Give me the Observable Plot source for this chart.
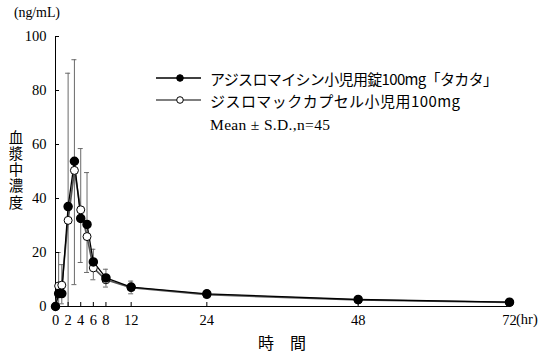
<!DOCTYPE html>
<html><head><meta charset="utf-8">
<script src="https://cdn.jsdelivr.net/npm/d3@7"></script>
<script src="https://cdn.jsdelivr.net/npm/@observablehq/plot@0.6"></script>
<style>body{margin:0;background:#fff}#chart{width:547px;height:356px}</style>
</head><body><div id="chart"></div>
<script>
const times = [0, 0.5, 1, 2, 3, 4, 5, 6, 8, 12, 24, 48, 72];
const takata = [0, 4.8, 4.8, 37.0, 53.8, 32.6, 30.4, 16.5, 10.6, 7.2, 4.7, 2.6, 1.6];
const zithromac = [0, 7.6, 7.9, 31.9, 50.4, 35.8, 25.9, 14.3, 9.9, 7.0, 4.4, 2.4, 1.5];
const errHigh = [null, 20.0, 15.5, 86.4, 91.4, 58.5, 49.6, 21.2, 13.8, 9.4, 5.9, null, null];
const errLow = [null, 0, 1.0, 0, 8.1, 16.3, 12.6, 9.9, 7.2, 4.7, 3.5, null, null];
const xTicks = [0, 2, 4, 6, 8, 12, 24, 48, 72];
const yTicks = [0, 20, 40, 60, 80, 100];
const seriesNames = ["アジスロマイシン小児用錠100mg「タカタ」", "ジスロマックカプセル小児用100mg"];
const noteText = "Mean ± S.D.,n=45";
const yUnit = "(ng/mL)";
const xUnit = "(hr)";
const yTitle = "血漿中濃度";
const xTitle = "時　間";

const W = 547, H = 356, mL = 55, mR = 38, mT = 36, mB = 50;
const frameW = W - mL - mR, frameH = H - mT - mB;
const serif = "'Liberation Serif','DejaVu Serif',serif";
const jp = "'Noto Sans CJK JP','Noto Sans CJK SC',sans-serif";

const rows = times.map((t, i) => ({t, a: takata[i], b: zithromac[i], hi: errHigh[i], lo: errLow[i]}));
const err = rows.filter(d => d.hi != null);

const plot = Plot.plot({
  width: W, height: H, marginLeft: mL, marginRight: mR, marginTop: mT, marginBottom: mB,
  style: {fontFamily: serif, fontSize: "14.5px", color: "#000", background: "#fff"},
  x: {domain: [0, 72]},
  y: {domain: [0, 100]},
  marks: [
    Plot.ruleX(err, {x: "t", y1: "lo", y2: "hi", stroke: "#6a6a6a", strokeWidth: 1}),
    Plot.ruleY(err.filter(d => d.lo > 0), {y: "lo", x1: "t", x2: "t", insetLeft: -2.5, insetRight: -2.5, stroke: "#6a6a6a"}),
    Plot.ruleY(err, {y: "hi", x1: "t", x2: "t", insetLeft: -2.5, insetRight: -2.5, stroke: "#6a6a6a"}),
    Plot.ruleX(xTicks, {insetTop: frameH - 4, stroke: "#000"}),
    Plot.ruleY(yTicks, {insetRight: frameW - 4, stroke: "#000"}),
    Plot.ruleX([0], {stroke: "#000"}),
    Plot.ruleY([0], {stroke: "#000"}),
    Plot.axisX(xTicks, {tickSize: 0, tickPadding: 8, fontSize: 14.5, label: null}),
    Plot.axisY(yTicks, {tickSize: 0, tickPadding: 9, fontSize: 14.5, label: null}),
    Plot.line(rows, {x: "t", y: "b", stroke: "#555", strokeWidth: 1.7}),
    Plot.line(rows, {x: "t", y: "a", stroke: "#000", strokeWidth: 1.3}),
    Plot.dot(rows.slice(1), {x: "t", y: "b", r: 4, fill: "#fff", stroke: "#000", strokeWidth: 1}),
    Plot.dot(rows, {x: "t", y: "a", r: 4, fill: "#000", stroke: "#000"})
  ]
});
document.getElementById("chart").append(plot);

const svg = d3.select(plot);
const sx = v => plot.scale("x").apply(v);
const sy = v => plot.scale("y").apply(v);
const g = svg.append("g").attr("text-anchor", "start");

g.append("text").attr("x", 14).attr("y", 17).attr("font-family", serif).attr("font-size", 14)
  .attr("textLength", 46).text(yUnit);
g.append("text").attr("x", sx(72) + 7).attr("y", sy(0) + 8).attr("dy", "0.71em")
  .attr("font-family", serif).attr("font-size", 14.5).text(xUnit);
g.append("text").attr("x", 16).attr("y", 130).attr("writing-mode", "tb")
  .style("writing-mode", "vertical-rl")
  .attr("font-family", jp).attr("font-size", 14.5).attr("letter-spacing", 1.7).text(yTitle);
g.append("text").attr("x", (sx(0) + sx(72)) / 2).attr("y", 342).attr("text-anchor", "middle")
  .attr("dominant-baseline", "central").attr("font-family", jp).attr("font-size", 16).text(xTitle);

// legend
const legY = [78, 100];
const legStroke = ["#000", "#555"];
const legLen = [288, 250];
seriesNames.forEach((name, i) => {
  g.append("line").attr("x1", 156).attr("x2", 201).attr("y1", legY[i]).attr("y2", legY[i])
    .attr("stroke", legStroke[i]).attr("stroke-width", i ? 1.7 : 1.3);
  g.append("circle").attr("cx", 180).attr("cy", legY[i]).attr("r", 3.3)
    .attr("fill", i ? "#fff" : "#000").attr("stroke", "#000");
  g.append("text").attr("x", 210).attr("y", legY[i]).attr("dominant-baseline", "central")
    .attr("font-family", jp).attr("font-size", 15).attr("textLength", legLen[i]).text(name);
});
g.append("text").attr("x", 210).attr("y", 124).attr("dominant-baseline", "central")
  .attr("font-family", serif).attr("font-size", 15.5).attr("textLength", 120).text(noteText);
</script>
</body></html>
